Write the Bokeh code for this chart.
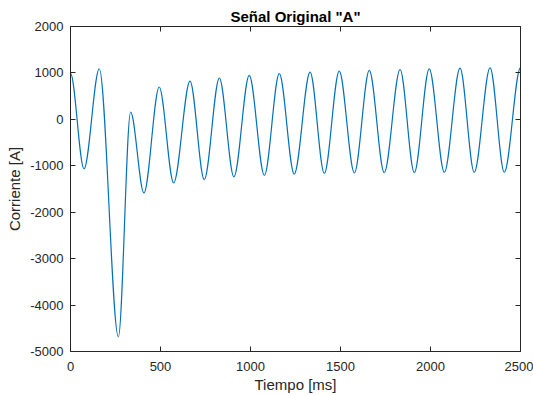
import numpy as np
from bokeh.plotting import figure
from bokeh.models import Range1d, LinearAxis, FixedTicker, ColumnDataSource, PrintfTickFormatter
from bokeh.embed import file_html
from bokeh.resources import INLINE

# ---------------- data ----------------
title_text = 'Señal Original "A"'
x_label = "Tiempo [ms]"
y_label = "Corriente [A]"
x_ticks = [0, 500, 1000, 1500, 2000, 2500]
y_ticks = [-5000, -4000, -3000, -2000, -1000, 0, 1000, 2000]

# turning points of the current signal (time in ms, current in A)
t_ms = [0, 75, 160, 266, 334, 408, 493, 573, 664, 743, 827, 908, 993,
        1077, 1160, 1243, 1331, 1410, 1493, 1577, 1660, 1743, 1831, 1910,
        1993, 2077, 2164, 2243, 2331, 2410, 2500]
corriente = [990, -1068, 1090, -4685, 155, -1585, 697, -1368, 825, -1297,
             889, -1239, 946, -1205, 983, -1177, 1017, -1162, 1038, -1154,
             1053, -1147, 1074, -1147, 1088, -1140, 1102, -1140, 1111,
             -1140, 1110]

# ---------------- smooth curve through the turning points ----------------
t = np.asarray(t_ms, dtype=float)
v = np.asarray(corriente, dtype=float)
h = np.diff(t)
d = np.diff(v) / h
m = np.zeros_like(v)
for k in range(1, len(v) - 1):
    if d[k - 1] * d[k] > 0:
        w1 = 2 * h[k] + h[k - 1]
        w2 = h[k] + 2 * h[k - 1]
        m[k] = (w1 + w2) / (w1 / d[k - 1] + w2 / d[k])
src = ColumnDataSource(dict(
    x0=t[:-1], y0=v[:-1], x1=t[1:], y1=v[1:],
    cx0=t[:-1] + h / 3, cy0=v[:-1] + m[:-1] * h / 3,
    cx1=t[1:] - h / 3, cy1=v[1:] - m[1:] * h / 3,
))

# ---------------- figure ----------------
ink = "#262626"
font = "Liberation Sans"
p = figure(width=533, height=395, output_backend="svg", toolbar_location=None,
           x_range=Range1d(0, 2500), y_range=Range1d(-5000, 2000),
           min_border_left=70, min_border_right=13, min_border_top=26,
           min_border_bottom=42, background_fill_color="white",
           border_fill_color="white")
p.bezier(x0="x0", y0="y0", x1="x1", y1="y1", cx0="cx0", cy0="cy0",
         cx1="cx1", cy1="cy1", source=src, line_color="#0072BD", line_width=1.2)

p.title.text = title_text
p.title.align = "center"
p.title.text_font = font
p.title.text_font_size = "15px"
p.title.text_font_style = "bold"
p.title.text_color = "black"
p.title.standoff = 4

p.xgrid.visible = False
p.ygrid.visible = False
p.outline_line_color = ink

def style(ax, ticks, show_labels):
    ax.ticker = FixedTicker(ticks=ticks)
    ax.formatter = PrintfTickFormatter(format="%d")
    ax.major_tick_in = 5
    ax.major_tick_out = 0
    ax.minor_tick_line_color = None
    ax.axis_line_color = ink
    ax.major_tick_line_color = ink
    ax.major_label_text_font = font
    ax.major_label_text_font_size = "13px"
    ax.major_label_text_color = ink
    ax.axis_label_text_font = font
    ax.axis_label_text_font_size = "15px"
    ax.axis_label_text_font_style = "normal"
    ax.axis_label_text_color = ink
    if not show_labels:
        ax.major_label_overrides = {tk: "" for tk in ticks}
        ax.major_label_standoff = 0

style(p.xaxis[0], x_ticks, True)
style(p.yaxis[0], y_ticks, True)
p.xaxis[0].axis_label = x_label
p.yaxis[0].axis_label = y_label
p.xaxis[0].major_label_standoff = 10
p.yaxis[0].major_label_standoff = 7
p.xaxis[0].axis_label_standoff = 2
p.yaxis[0].axis_label_standoff = 4

top_ax = LinearAxis()
right_ax = LinearAxis()
style(top_ax, x_ticks, False)
style(right_ax, y_ticks, False)
p.add_layout(top_ax, "above")
p.add_layout(right_ax, "right")

open("out.html", "w").write(file_html(p, INLINE))
